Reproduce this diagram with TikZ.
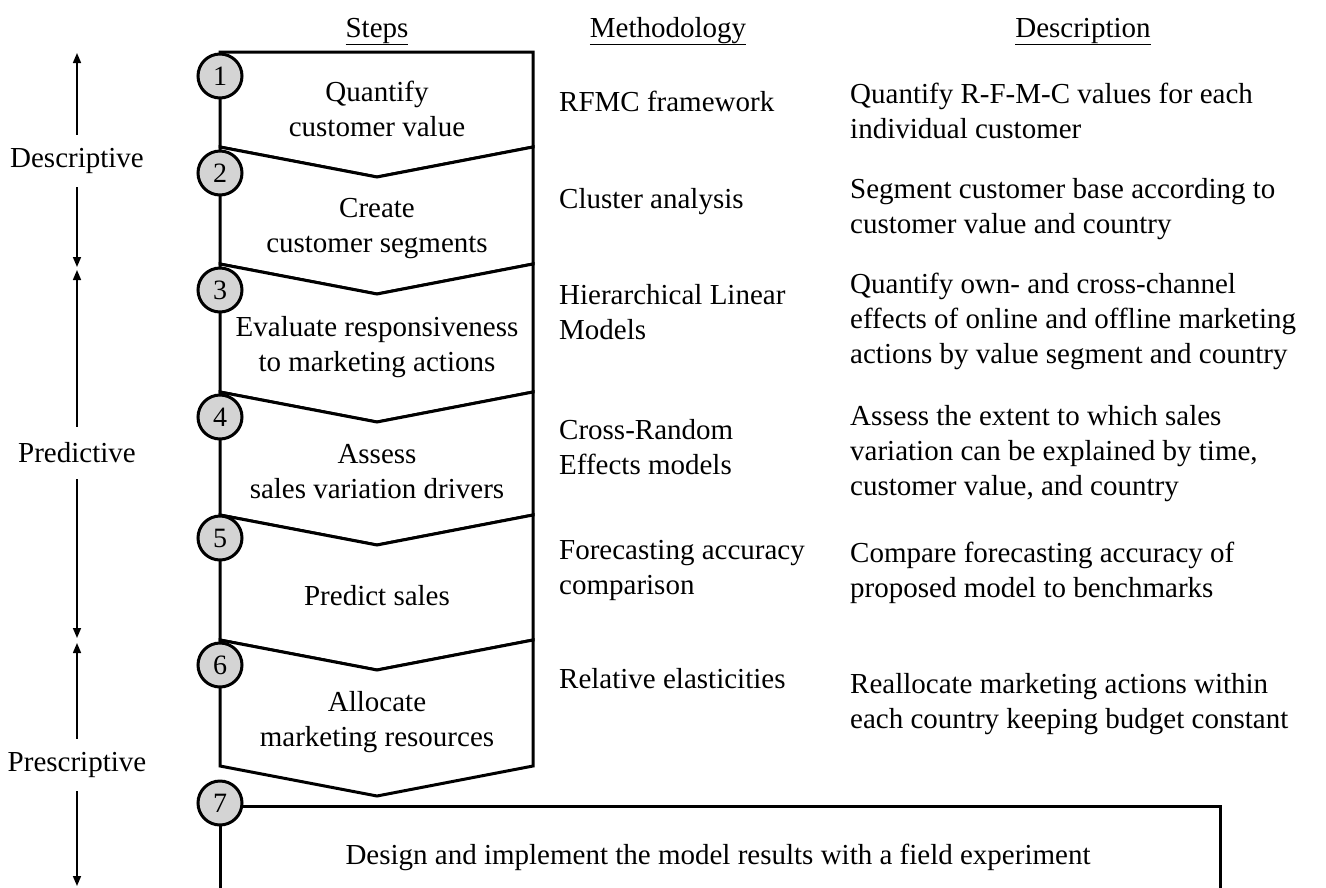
\documentclass[tikz,border=0pt]{standalone}
\usepackage{fontspec}
\setmainfont{Liberation Serif}
\usetikzlibrary{arrows.meta}
\begin{document}
\begin{tikzpicture}[x=1pt,y=-1pt,
  txt/.style={font=\fontsize{29}{35}\selectfont, inner sep=0pt},
  col/.style={txt, align=left, anchor=west},
  steptxt/.style={txt, align=center},
  hdr/.style={txt, anchor=base},
  num/.style={circle, draw, line width=3pt, fill=black!17, minimum size=44pt, inner sep=0pt, font=\fontsize{28}{30}\selectfont},
  stage/.style={txt, minimum height=52pt},
  rng/.style={line width=1.5pt, -{Triangle[length=10pt,width=8pt]}},
  chev/.style={draw, line width=3pt, fill=white, line join=miter}]
\useasboundingbox (0,0) rectangle (1326,887);
\clip (0,0) rectangle (1326,887);
\fill[white] (0,0) rectangle (1326,887);

% headers
\node[hdr] (hsteps) at (377,37) {\underline{Steps}};
\node[hdr] (hmeth) at (668,37) {\underline{Methodology}};
\node[hdr] (hdesc) at (1083,37) {\underline{Description}};

% chevron steps
\draw[chev] (220,52) -- (533,52) -- (533,147) -- (377,177) -- (220,147) -- cycle;
\draw[chev] (220,147) -- (377,177) -- (533,147) -- (533,264) -- (377,294) -- (220,264) -- cycle;
\draw[chev] (220,264) -- (377,294) -- (533,264) -- (533,392) -- (377,422) -- (220,392) -- cycle;
\draw[chev] (220,392) -- (377,422) -- (533,392) -- (533,515) -- (377,545) -- (220,515) -- cycle;
\draw[chev] (220,515) -- (377,545) -- (533,515) -- (533,640) -- (377,670) -- (220,640) -- cycle;
\draw[chev] (220,640) -- (377,670) -- (533,640) -- (533,766) -- (377,796) -- (220,766) -- cycle;
% step 7 box (open at the bottom edge)
\draw[line width=3pt, line join=miter] (220,900) -- (220,806) -- (1220,806) -- (1220,900);

% step texts
\node[steptxt] (s1) at (377,109) {Quantify\\customer value};
\node[steptxt] (s2) at (377,229) {Create\\customer segments};
\node[steptxt] (s3) at (377,347) {Evaluate responsiveness\\to marketing actions};
\node[steptxt] (s4) at (377,472) {Assess\\sales variation drivers};
\node[steptxt] (s5) at (377,596) {Predict sales};
\node[steptxt] (s6) at (377,722) {Allocate\\marketing resources};
\node[steptxt] (s7) at (718,857) {Design and implement the model results with a field experiment};

% numbered circles
\node[num] (n1) at (220,76) {1};
\node[num] (n2) at (220,173) {2};
\node[num] (n3) at (220,290) {3};
\node[num] (n4) at (220,417) {4};
\node[num] (n5) at (220,538) {5};
\node[num] (n6) at (220,665) {6};
\node[num] (n7) at (220,803) {7};

% methodology column
\node[col] (m1) at (559,101) {RFMC framework};
\node[col] (m2) at (559,202) {Cluster analysis};
\node[col] (m3) at (559,312) {Hierarchical Linear\\Models};
\node[col] (m4) at (559,447) {Cross-Random\\Effects models};
\node[col] (m5) at (559,570) {Forecasting accuracy\\comparison};
\node[col] (m6) at (559,679) {Relative elasticities};

% description column
\node[col] (d1) at (850,111) {Quantify R-F-M-C values for each\\individual customer};
\node[col] (d2) at (850,209) {Segment customer base according to\\customer value and country};
\node[col] (d3) at (850,321) {Quantify own- and cross-channel\\effects of online and offline marketing\\actions by value segment and country};
\node[col] (d4) at (850,454) {Assess the extent to which sales\\variation can be explained by time,\\customer value, and country};
\node[col] (d5) at (850,573) {Compare forecasting accuracy of\\proposed model to benchmarks};
\node[col] (d6) at (850,704) {Reallocate marketing actions within\\each country keeping budget constant};

% stages on the left
\node[stage] (desc) at (77,161) {Descriptive};
\node[stage] (pred) at (77,453) {Predictive};
\node[stage] (presc) at (77,765) {Prescriptive};
\coordinate (desctop) at (77,53);
\coordinate (descbot) at (77,267);
\coordinate (predtop) at (77,270);
\coordinate (predbot) at (77,638);
\coordinate (presctop) at (77,643);
\coordinate (prescbot) at (77,886);
\draw[rng] (desc.north) -- (desctop);
\draw[rng] (desc.south) -- (descbot);
\draw[rng] (pred.north) -- (predtop);
\draw[rng] (pred.south) -- (predbot);
\draw[rng] (presc.north) -- (presctop);
\draw[rng] (presc.south) -- (prescbot);
\end{tikzpicture}
\end{document}
